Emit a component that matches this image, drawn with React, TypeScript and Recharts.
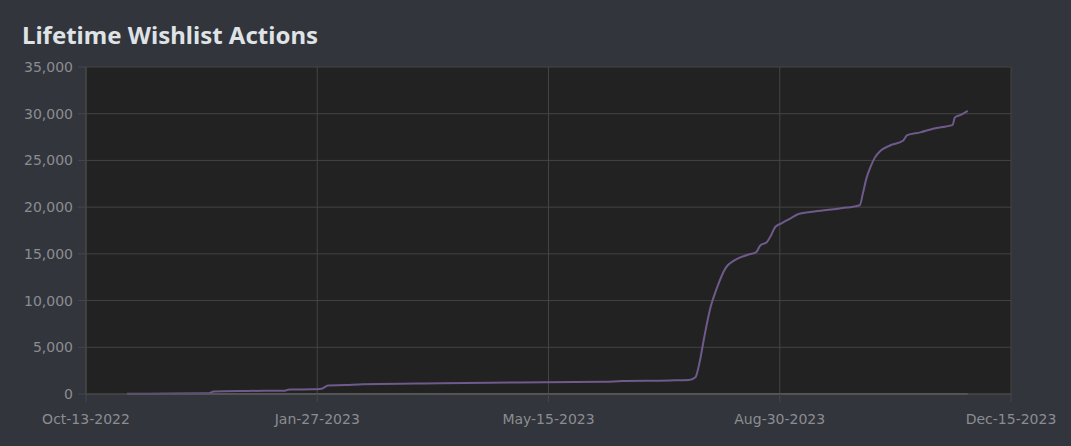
import { LineChart, Line, XAxis, YAxis, CartesianGrid } from 'recharts'

// days since Oct-13-2022
const dayOffsets = [
    19, 40, 57, 59, 75, 92, 94, 105, 109, 112, 120, 128, 164, 200, 240, 248, 270, 279,
    282, 284, 286, 289, 292, 296, 300, 303, 307, 310, 312, 315, 317, 319, 322, 326, 330,
    336, 345, 352, 358, 359.5, 361, 363, 365, 367.5, 372, 378, 380, 386, 392, 401, 402,
    405, 408,
]
const wishlistTotals = [
    30, 50, 80, 280, 330, 360, 480, 500, 560, 900, 950, 1050, 1150, 1230, 1300, 1400, 1450, 1500,
    1800, 3500, 6000, 9300, 11400, 13500, 14300, 14650, 14950, 15150, 15900, 16250, 17000, 17900, 18300, 18800, 19300,
    19500, 19750, 19950, 20200, 21500, 23000, 24300, 25300, 26000, 26600, 27100, 27700, 28000, 28400, 28800, 29600,
    29900, 30300,
]
const zeroLineDays = [19, 408]
const zeroLineValues = [0, 0]

const xTickDays = [0, 107, 214, 321, 428]
const xTickLabels = ['Oct-13-2022', 'Jan-27-2023', 'May-15-2023', 'Aug-30-2023', 'Dec-15-2023']
const yTicks = [0, 5000, 10000, 15000, 20000, 25000, 30000, 35000]

const FONT = '"DejaVu Sans", Verdana, sans-serif'
const TICK_COLOR = '#8b8d91'

export default function App() {
    const wishlistData = dayOffsets.map((d, i) => ({ day: d, total: wishlistTotals[i] }))
    const zeroData = zeroLineDays.map((d, i) => ({ day: d, total: zeroLineValues[i] }))

    return (
        <div style={{ position: 'absolute', left: 0, top: 0, width: 1071, height: 446, background: '#32353c' }}>
            <div
                style={{
                    position: 'absolute',
                    left: 22,
                    top: 18,
                    fontFamily: '"Noto Sans", sans-serif',
                    fontWeight: 700,
                    fontSize: 24,
                    color: '#dfe3e6',
                }}
            >
                Lifetime Wishlist Actions
            </div>
            <LineChart width={1071} height={446} margin={{ top: 67, right: 60, bottom: 0, left: 0 }}>
                <CartesianGrid
                    fill="#222222"
                    stroke="#444444"
                    horizontalValues={yTicks}
                    verticalValues={xTickDays}
                />
                <XAxis
                    type="number"
                    dataKey="day"
                    domain={[0, 428]}
                    ticks={xTickDays}
                    tickFormatter={(v: number) => xTickLabels[xTickDays.indexOf(v)] ?? ''}
                    height={52}
                    tickSize={8}
                    tickMargin={12}
                    axisLine={{ stroke: '#4a4a4a' }}
                    tickLine={{ stroke: '#44474d' }}
                    tick={{ fill: TICK_COLOR, fontSize: 14, fontFamily: FONT }}
                    interval={0}
                    allowDuplicatedCategory={false}
                />
                <YAxis
                    type="number"
                    domain={[0, 35000]}
                    ticks={yTicks}
                    width={86}
                    tickSize={8}
                    tickMargin={5}
                    axisLine={{ stroke: '#4a4a4a' }}
                    tickLine={{ stroke: '#44474d' }}
                    tickFormatter={(v: number) => v.toLocaleString('en-US')}
                    tick={{ fill: TICK_COLOR, fontSize: 14, fontFamily: FONT }}
                    interval={0}
                />
                <Line
                    data={zeroData}
                    dataKey="total"
                    stroke="#5e5e5e"
                    strokeWidth={2}
                    dot={false}
                    isAnimationActive={false}
                />
                <Line
                    data={wishlistData}
                    dataKey="total"
                    type="monotone"
                    stroke="#6f5a8c"
                    strokeWidth={2}
                    dot={false}
                    isAnimationActive={false}
                />
            </LineChart>
        </div>
    )
}
